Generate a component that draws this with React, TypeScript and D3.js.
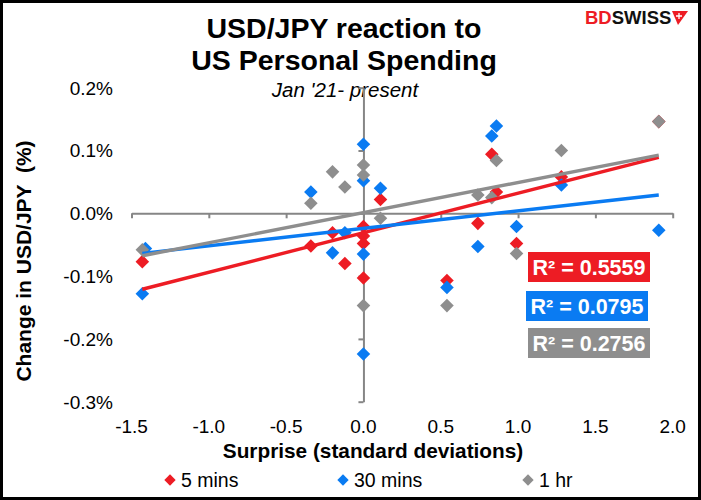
import * as d3 from "d3";
import { useEffect, useRef } from "react";

// surprise in standard deviations, reaction in %
const surprise = [-1.43, -1.41, -0.34, -0.2, -0.12, 0, 0, 0, 0, 0.11, 0.54, 0.74, 0.83, 0.86, 0.99, 1.28, 1.91];
const fiveMins = [-0.077, null, -0.052, -0.031, -0.08, -0.021, -0.036, -0.048, -0.103, 0.022, -0.107, -0.016, 0.094, 0.034, -0.048, 0.058, 0.146];
const thirtyMins = [-0.128, -0.056, 0.034, -0.063, -0.031, 0.11, 0.052, -0.065, -0.224, 0.04, -0.118, -0.053, 0.123, 0.139, -0.021, 0.045, -0.027];
const oneHour = [-0.058, null, 0.016, 0.066, 0.042, 0.077, 0.061, -0.147, null, -0.008, -0.147, 0.029, 0.025, 0.084, -0.064, 0.1, 0.146];

const seriesNames = ["5 mins", "30 mins", "1 hr"];
const seriesColors = ["#ED1C24", "#0A7BF2", "#8E8E8E"];
// linear trendlines
const trendSlope = [0.0629, 0.0278, 0.048];
const trendIntercept = [-0.031, -0.024, 0.001];
const rSquared = ["0.5559", "0.0795", "0.2756"];

const xTicks = [-1.5, -1.0, -0.5, 0.0, 0.5, 1.0, 1.5, 2.0];
const yTicks = [-0.3, -0.2, -0.1, 0.0, 0.1, 0.2];

const FONT = "'Liberation Sans', Arial, sans-serif";
const AXIS = "#868686";

export default function App() {
  const ref = useRef<SVGSVGElement>(null);

  useEffect(() => {
    if (!ref.current) return;
    document.body.style.margin = "0";
    const svg = d3.select(ref.current);
    svg.selectAll("*").remove();

    const width = 701;
    const height = 500;
    svg.attr("viewBox", `0 0 ${width} ${height}`).attr("font-family", FONT);

    svg
      .append("rect")
      .attr("x", 1.5)
      .attr("y", 1.5)
      .attr("width", width - 3)
      .attr("height", height - 3)
      .attr("fill", "#fff")
      .attr("stroke", "#000")
      .attr("stroke-width", 3);

    const x = d3.scaleLinear().domain([-1.5, 2]).range([131.5, 672.7]);
    const y = d3.scaleLinear().domain([-0.3, 0.2]).range([401.7, 87.7]);

    // titles
    const title = svg.append("g").attr("text-anchor", "middle").attr("font-weight", "bold").attr("font-size", 28.5);
    title.append("text").attr("x", 344).attr("y", 38).text("USD/JPY reaction to");
    title.append("text").attr("x", 344).attr("y", 70).text("US Personal Spending");
    svg
      .append("text")
      .attr("x", 345)
      .attr("y", 97)
      .attr("text-anchor", "middle")
      .attr("font-style", "italic")
      .attr("font-size", 20.5)
      .text("Jan '21- present");

    // logo
    const logo = svg.append("text").attr("x", 585).attr("y", 24).attr("font-weight", "bold").attr("font-size", 18.5);
    logo.append("tspan").attr("fill", "#ED1C24").text("BD");
    logo.append("tspan").attr("fill", "#111").text("SWISS");
    svg.append("path").attr("d", "M672,11 L688,11 L678,25 Z").attr("fill", "#ED1C24");
    svg
      .append("path")
      .attr("d", "M679,13 v6 M676,16 h6")
      .attr("stroke", "#fff")
      .attr("stroke-width", 1.3);

    // axes crossing at zero
    svg
      .append("g")
      .attr("transform", `translate(0,${y(0)})`)
      .call(d3.axisBottom(x).tickValues(xTicks).tickSizeInner(5).tickSizeOuter(0).tickFormat(() => ""))
      .call((g) => g.selectAll("line").attr("stroke", AXIS).attr("stroke-width", 2))
      .call((g) => g.select(".domain").attr("stroke", AXIS).attr("stroke-width", 2));

    svg
      .append("g")
      .attr("transform", `translate(${x(0)},0)`)
      .call(d3.axisLeft(y).tickValues(yTicks).tickSizeInner(5).tickSizeOuter(0).tickFormat(() => ""))
      .call((g) => g.selectAll("line").attr("stroke", AXIS).attr("stroke-width", 2))
      .call((g) => g.select(".domain").attr("stroke", AXIS).attr("stroke-width", 2));

    // tick labels at low position
    svg
      .append("g")
      .attr("font-size", 19)
      .attr("text-anchor", "middle")
      .selectAll("text")
      .data(xTicks)
      .join("text")
      .attr("x", (d) => x(d))
      .attr("y", 433)
      .text((d) => d3.format(".1f")(d).replace("−", "-"));

    svg
      .append("g")
      .attr("font-size", 19)
      .attr("text-anchor", "end")
      .selectAll("text")
      .data(yTicks)
      .join("text")
      .attr("x", 113)
      .attr("y", (d) => y(d))
      .attr("dy", "0.36em")
      .text((d) => d3.format(".1f")(d).replace("−", "-") + "%");

    // axis titles
    svg
      .append("text")
      .attr("x", 373)
      .attr("y", 458)
      .attr("text-anchor", "middle")
      .attr("font-weight", "bold")
      .attr("font-size", 20.8)
      .text("Surprise (standard deviations)");
    svg
      .append("text")
      .attr("transform", `translate(31,261) rotate(-90)`)
      .attr("text-anchor", "middle")
      .attr("font-weight", "bold")
      .attr("font-size", 21)
      .style("white-space", "pre")
      .text("Change in USD/JPY  (%)");

    const diamond = (size: number) => d3.symbol(d3.symbolSquare, size)();
    const series = [fiveMins, thirtyMins, oneHour];

    // markers
    series.forEach((vals, i) => {
      const pts = surprise
        .map((s, j) => ({ s, v: vals[j] }))
        .filter((d) => d.v !== null) as { s: number; v: number }[];
      svg
        .append("g")
        .selectAll("path")
        .data(pts)
        .join("path")
        .attr("d", diamond(92))
        .attr("transform", (d) => `translate(${x(d.s)},${y(d.v)}) rotate(45)`)
        .attr("fill", seriesColors[i]);
    });

    // trendlines over the markers
    const [xMin, xMax] = d3.extent(surprise) as [number, number];
    series.forEach((_, i) => {
      const trend = d3
        .line<number>()
        .x((d) => x(d))
        .y((d) => y(trendIntercept[i] + trendSlope[i] * d));
      svg
        .append("path")
        .datum([xMin, xMax])
        .attr("d", trend)
        .attr("fill", "none")
        .attr("stroke", seriesColors[i])
        .attr("stroke-width", 3.4);
    });

    // R² boxes
    const boxes = [
      { bx: 528, by: 252, bw: 122 },
      { bx: 526, by: 291, bw: 122 },
      { bx: 528, by: 328, bw: 122 },
    ];
    boxes.forEach((b, i) => {
      svg
        .append("rect")
        .attr("x", b.bx)
        .attr("y", b.by)
        .attr("width", b.bw)
        .attr("height", 30)
        .attr("fill", seriesColors[i]);
      svg
        .append("text")
        .attr("x", b.bx + b.bw / 2)
        .attr("y", b.by + 15)
        .attr("dy", "0.36em")
        .attr("text-anchor", "middle")
        .attr("fill", "#fff")
        .attr("font-weight", "bold")
        .attr("font-size", 21.5)
        .text(`R² = ${rSquared[i]}`);
    });

    // legend
    const legendX = [170, 343, 528];
    const legend = svg
      .append("g")
      .selectAll("g")
      .data(seriesNames)
      .join("g")
      .attr("transform", (_, i) => `translate(${legendX[i]},480)`);
    legend
      .append("path")
      .attr("d", diamond(64))
      .attr("transform", "rotate(45)")
      .attr("fill", (_, i) => seriesColors[i]);
    legend
      .append("text")
      .attr("x", 11)
      .attr("y", 6.5)
      .attr("font-size", 19.5)
      .text((d) => d);
  }, []);

  return <svg ref={ref} width={701} height={500} style={{ display: "block" }} role="img" aria-label="USD/JPY reaction to US Personal Spending" />;
}
